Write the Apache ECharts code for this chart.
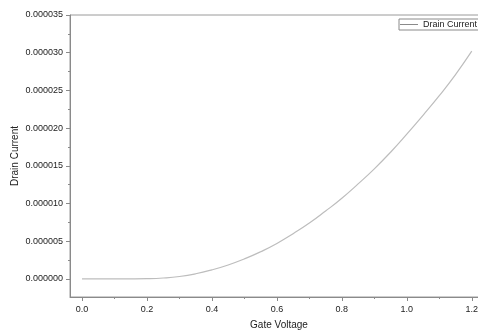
<!DOCTYPE html>
<html>
<head>
    <meta charset="utf-8">
    <title>Drain Current vs Gate Voltage</title>
    <script src="https://cdn.jsdelivr.net/npm/echarts@6.0.0/dist/echarts.min.js"></script>
    <style>
        html, body { margin: 0; padding: 0; background: #fff; }
        #chart { width: 478px; height: 335px; }
    </style>
</head>
<body>
    <div id="chart"></div>
    <script>
        // values (A)
        var gateVoltage = [0.00, 0.05, 0.10, 0.15, 0.20, 0.25, 0.30, 0.35, 0.40, 0.45, 0.50, 0.55,
                           0.60, 0.65, 0.70, 0.75, 0.80, 0.85, 0.90, 0.95, 1.00, 1.05, 1.10, 1.15, 1.20];
        var drainCurrent = [0, 0, 0, 0.005e-6, 0.03e-6, 0.12e-6, 0.32e-6, 0.68e-6, 1.2e-6, 1.85e-6, 2.65e-6, 3.6e-6,
                            4.7e-6, 6.0e-6, 7.4e-6, 9.0e-6, 10.7e-6, 12.6e-6, 14.6e-6, 16.8e-6, 19.2e-6, 21.7e-6, 24.3e-6, 27.1e-6, 30.2e-6];
        var xTicks = [0, 0.2, 0.4, 0.6, 0.8, 1.0, 1.2];
        var xMinor = [0.1, 0.3, 0.5, 0.7, 0.9, 1.1];
        var yTicks = [0, 5e-6, 10e-6, 15e-6, 20e-6, 25e-6, 30e-6, 35e-6];
        var yMinor = [2.5e-6, 7.5e-6, 12.5e-6, 17.5e-6, 22.5e-6, 27.5e-6, 32.5e-6];

        var font = 'Liberation Sans, Arial, sans-serif';
        var axisGray = '#8a8a8a';

        var chart = echarts.init(document.getElementById('chart'));
        chart.setOption({
            animation: false,
            grid: {
                left: 70, top: 15, width: 418, height: 282,
                outerBoundsMode: 'none', containLabel: false,
                show: true, borderColor: '#9a9a9a', borderWidth: 1
            },
            legend: {
                left: 399, top: 19,
                padding: [1, 6, 1, 1],
                borderColor: '#8a8a8a', borderWidth: 1,
                icon: 'rect', itemWidth: 18, itemHeight: 1,
                itemStyle: { color: '#8a8a8a' },
                textStyle: { fontSize: 9, fontFamily: font, color: '#222' },
                data: ['Drain Current']
            },
            xAxis: [{
                type: 'value', min: -0.037, max: 1.25,
                name: 'Gate Voltage', nameLocation: 'middle', nameGap: 23,
                nameTextStyle: { fontSize: 10, fontFamily: font, color: '#222' },
                axisLine: { onZero: false, lineStyle: { color: axisGray } },
                axisTick: { customValues: xTicks, length: 4, lineStyle: { color: axisGray } },
                axisLabel: {
                    customValues: xTicks, margin: 8, fontSize: 9, fontFamily: font, color: '#222',
                    formatter: function (v) { return v.toFixed(1); }
                },
                splitLine: { show: false }
            }, {
                type: 'value', min: -0.037, max: 1.25, position: 'bottom',
                axisLine: { show: false, onZero: false },
                axisTick: { customValues: xMinor, length: 2, lineStyle: { color: axisGray } },
                axisLabel: { show: false },
                splitLine: { show: false }
            }],
            yAxis: [{
                type: 'value', min: -2.4e-6, max: 35e-6,
                name: 'Drain Current', nameLocation: 'middle', nameGap: 50, nameMoveOverlap: false,
                nameTextStyle: { fontSize: 10, fontFamily: font, color: '#222' },
                axisLine: { show: true, onZero: false, lineStyle: { color: axisGray } },
                axisTick: { show: true, customValues: yTicks, length: 4, lineStyle: { color: axisGray } },
                axisLabel: {
                    customValues: yTicks, margin: 7, fontSize: 9, fontFamily: font, color: '#222',
                    formatter: function (v) { return v.toFixed(6); }
                },
                splitLine: { show: false }
            }, {
                type: 'value', min: -2.4e-6, max: 35e-6, position: 'left',
                axisLine: { show: false, onZero: false },
                axisTick: { show: true, customValues: yMinor, length: 2, lineStyle: { color: axisGray } },
                axisLabel: { show: false },
                splitLine: { show: false }
            }],
            series: [{
                name: 'Drain Current',
                type: 'line',
                smooth: true,
                symbol: 'none',
                lineStyle: { color: '#bdbdbd', width: 1.2 },
                itemStyle: { color: '#9a9a9a' },
                data: gateVoltage.map(function (v, i) { return [v, drainCurrent[i]]; })
            }]
        });
    </script>
</body>
</html>
